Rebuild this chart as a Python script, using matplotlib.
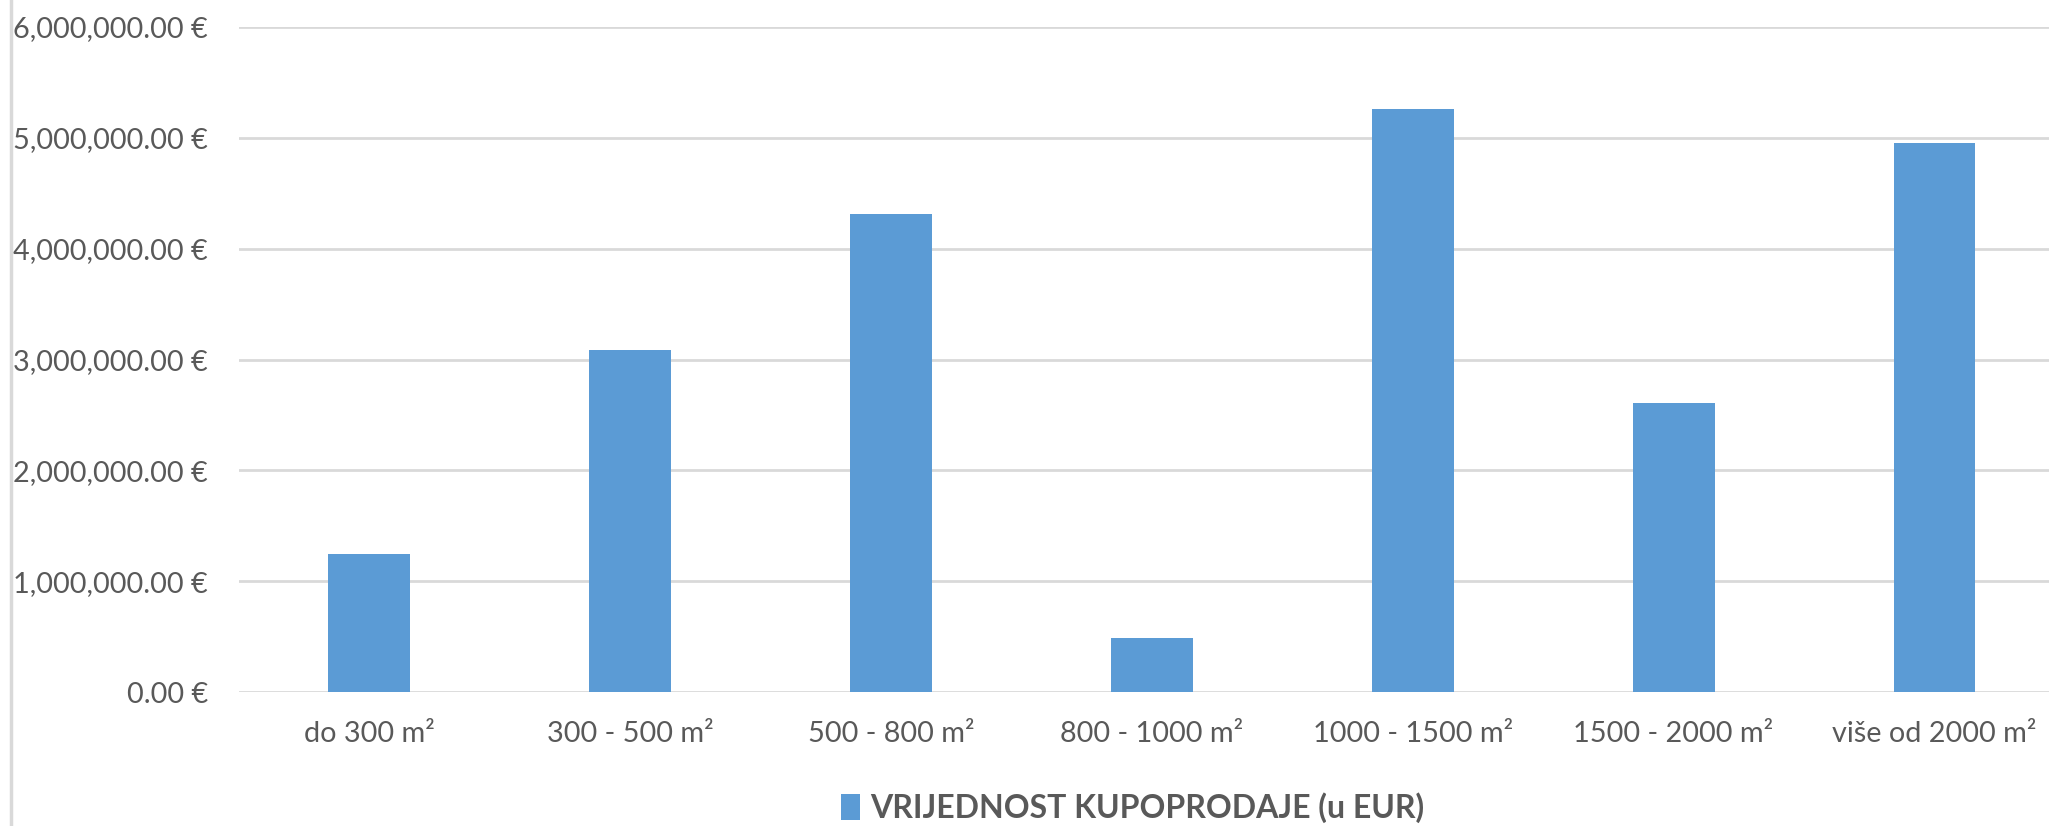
import matplotlib
matplotlib.use("Agg")
import matplotlib.pyplot as plt
from matplotlib.ticker import FuncFormatter

categories = ["do 300 m²", "300 - 500 m²", "500 - 800 m²", "800 - 1000 m²",
              "1000 - 1500 m²", "1500 - 2000 m²", "više od 2000 m²"]
values = [1245000, 3085000, 4315000, 490000, 5262000, 2605000, 4955000]
series_name = "VRIJEDNOST KUPOPRODAJE (u EUR)"

plt.rcParams["font.family"] = ["Lato", "DejaVu Sans"]
text_color = "#595959"
grid_color = "#D9D9D9"
bar_color = "#5B9BD5"

fig = plt.figure(figsize=(20.49, 8.26), dpi=100)
ax = fig.add_axes([0.1164, 0.1622, 0.8914, 0.8051])

x = range(len(categories))
bars = ax.bar(x, values, width=0.314, color=bar_color, label=series_name, zorder=3)

ax.set_xlim(-0.5, len(categories) - 0.5)
ax.set_ylim(0, 6000000)
ax.set_yticks(range(0, 6000001, 1000000))
ax.yaxis.set_major_formatter(FuncFormatter(lambda v, p: f"{v:,.2f} €"))
ax.set_xticks(list(x))
ax.set_xticklabels(categories)

ax.grid(axis="y", color=grid_color, linewidth=2, zorder=0)
for s in ax.spines.values():
    s.set_visible(False)
ax.tick_params(axis="both", length=0, labelsize=20.8, colors=text_color)
ax.tick_params(axis="y", pad=22)
ax.tick_params(axis="x", pad=21)

# chart area border on the left
fig.add_artist(plt.Line2D([11 / 2049, 11 / 2049], [0, 1], color=grid_color,
                          linewidth=2.5, transform=fig.transFigure))

fig.legend(handles=[bars], labels=[series_name], loc="center",
           bbox_to_anchor=(0.5526, 1 - 808 / 826), frameon=False,
           prop={"weight": "bold", "size": 23}, labelcolor=text_color,
           handlelength=0.62, handleheight=0.85, handletextpad=0.3)

fig.savefig("out.png", dpi=100)
